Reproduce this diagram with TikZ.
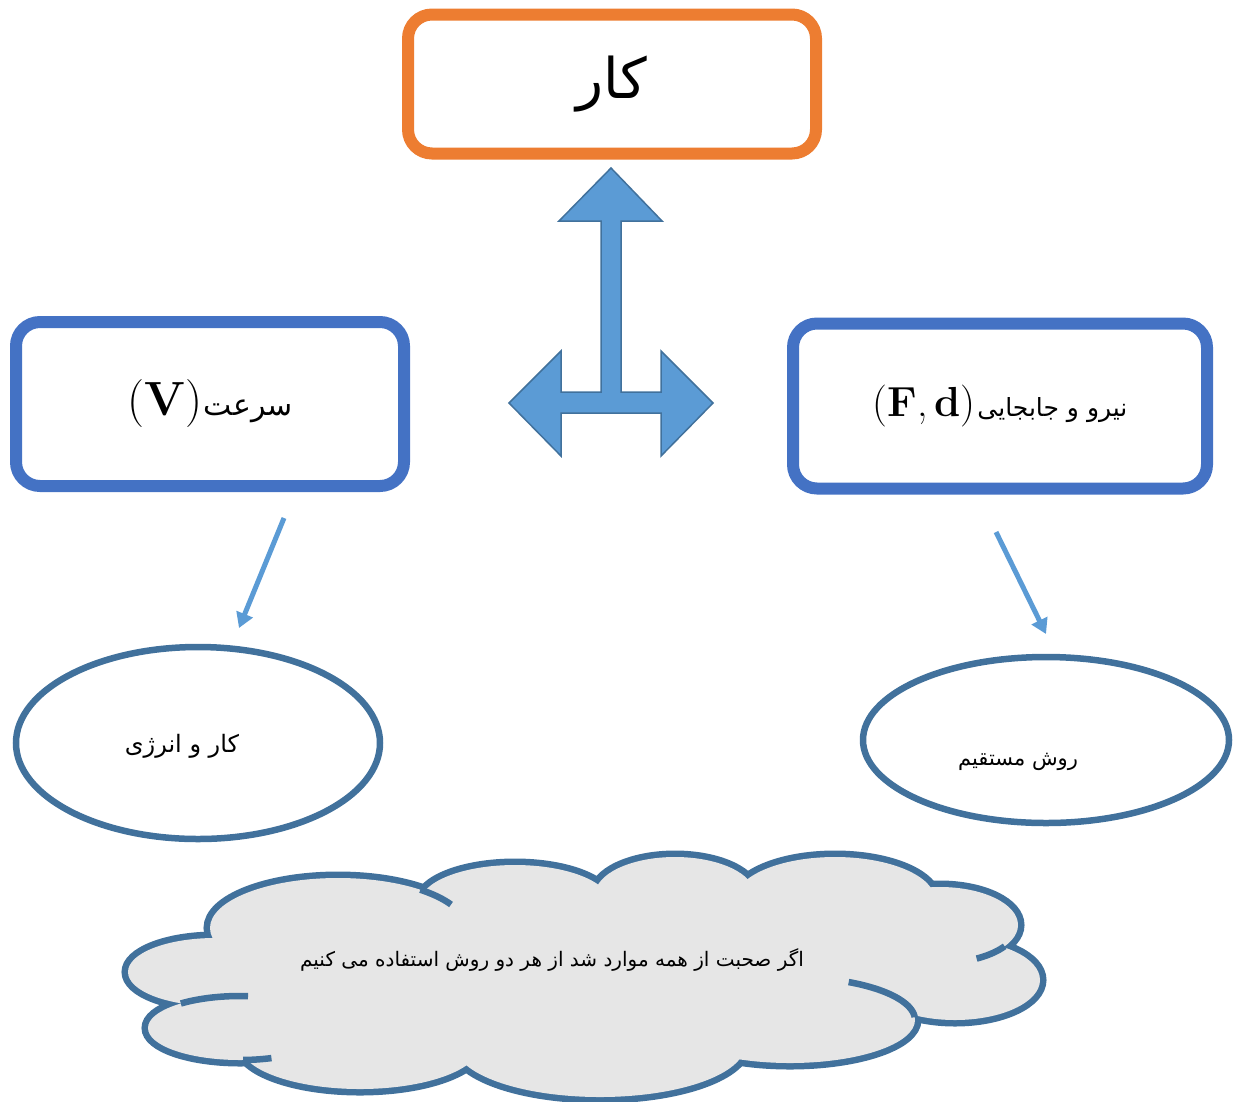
\documentclass[tikz,border=0pt]{standalone}
\usepackage{fontspec}
\usetikzlibrary{shapes.geometric,arrows.meta}
\newfontfamily\fa[Script=Arabic]{DejaVu Sans}
\TeXXeTstate=1
\definecolor{orng}{HTML}{ED7D31}
\definecolor{boxblue}{HTML}{4472C4}
\definecolor{arrfill}{HTML}{5B9BD5}
\definecolor{arrline}{HTML}{41719C}
\definecolor{elline}{HTML}{41719C}
\definecolor{cloudgray}{HTML}{E6E6E6}
\tikzset{
  topbox/.style={draw=orng, line width=12pt, rounded corners=24pt, fill=white},
  sidebox/.style={draw=boxblue, line width=12pt, rounded corners=24pt, fill=white},
  oval/.style={ellipse, draw=elline, line width=6.5pt, fill=white, inner sep=0pt},
  thinarrow/.style={draw=arrfill, line width=5pt, -{Triangle[length=15pt,width=17pt]}},
  bigarrow/.style={fill=arrfill, draw=arrline, line width=1.5pt, line join=miter},
  cloudedge/.style={draw=elline, line width=6.5pt},
}
\begin{document}
\begin{tikzpicture}[x=1pt,y=-1pt]
\useasboundingbox (0,0) rectangle (1233,1101);

% boxes
\node[topbox, minimum width=408pt, minimum height=139pt, font=\fa\fontsize{56}{64}\selectfont] (kar) at (612,84) {\beginR کار\endR};
\node[sidebox, minimum width=388pt, minimum height=164pt] (speed) at (210,404)
  {{\fontsize{48}{54}\selectfont (\textbf{V})}\,{\fa\fontsize{30}{36}\selectfont\beginR سرعت\endR}};
\node[sidebox, minimum width=414pt, minimum height=165pt] (force) at (1000,406)
  {{\fontsize{42}{48}\selectfont (\textbf{F},\,\textbf{d})}\,{\fa\fontsize{25}{32}\selectfont\beginR نیرو و جابجایی\endR}};

% ellipses
\node[oval, minimum width=364pt, minimum height=192pt] (energy) at (198,743) {};
\node[oval, minimum width=366pt, minimum height=166pt] (direct) at (1046,740) {};
\node[font=\fa\fontsize{24}{30}\selectfont] (energytext) at (182,746) {\beginR کار و انرژی\endR};
\node[font=\fa\fontsize{21}{28}\selectfont] (directtext) at (1018,762) {\beginR روش مستقیم\endR};

% thin arrows
\coordinate (la1) at (284,518);
\coordinate (la2) at (239,628);
\coordinate (ra1) at (996,532);
\coordinate (ra2) at (1046,634);
\draw[thinarrow] (la1) -- (la2);
\draw[thinarrow] (ra1) -- (ra2);

% three-headed arrow
\draw[bigarrow] (611,168) -- (662,221) -- (621,221) -- (621,392) -- (661,392) -- (661,351)
  -- (713,403) -- (661,456) -- (661,413) -- (561,413) -- (561,456) -- (509,403)
  -- (561,351) -- (561,392) -- (601,392) -- (601,221) -- (559,221) -- cycle;

% cloud
\def\lobes{215/972/87/34, 338/928/128/50, 515/903/95/38, 675/895/80/38, 835/900/100/43,
  940/925/78/38, 955/980/85/40, 790/1020/125/43, 600/1045/145/52, 360/1045/120/44, 240/1028/92/32}
\foreach \cx/\cy/\rx/\ry in \lobes
  \draw[draw=elline, line width=13pt] (\cx,\cy) ellipse [x radius=\rx pt, y radius=\ry pt];
\foreach \cx/\cy/\rx/\ry in \lobes
  \fill[cloudgray] (\cx,\cy) ellipse [x radius=\rx pt, y radius=\ry pt];
\fill[cloudgray] (215,972) -- (338,928) -- (515,903) -- (675,895) -- (835,900) -- (940,925)
  -- (955,980) -- (790,1020) -- (600,1045) -- (360,1045) -- (240,1028) -- cycle;
% inner arcs of the cloud
\draw[cloudedge] plot[domain=-62:-4, samples=30] ({790+125*cos(\x)},{1020+43*sin(\x)});
\draw[cloudedge] plot[domain=34:62, samples=20] ({940+78*cos(\x)},{925+38*sin(\x)});
\draw[cloudedge] plot[domain=-130:-85, samples=20] ({240+92*cos(\x)},{1028+32*sin(\x)});
\draw[cloudedge] plot[domain=-50:-28, samples=20] ({338+128*cos(\x)},{928+50*sin(\x)});
\draw[cloudedge] plot[domain=70:88, samples=20] ({240+92*cos(\x)},{1028+32*sin(\x)});

\node[font=\fa\fontsize{20}{28}\selectfont] (cloudtext) at (552,960)
  {\beginR اگر صحبت از همه موارد شد از هر دو روش استفاده می کنیم\endR};
\end{tikzpicture}
\end{document}
